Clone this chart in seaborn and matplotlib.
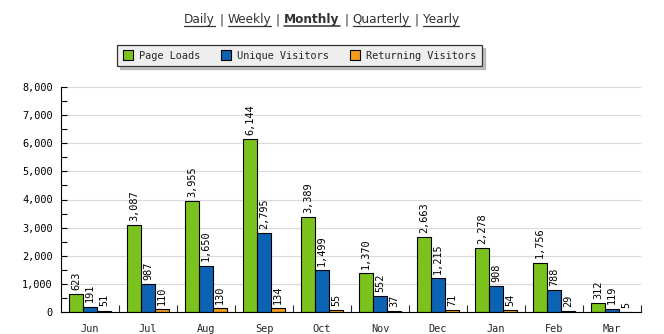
import matplotlib
matplotlib.use("Agg")
import matplotlib.pyplot as plt
import seaborn as sns
import pandas as pd
from matplotlib.patches import Patch
from matplotlib.lines import Line2D
from matplotlib.ticker import MultipleLocator, FixedLocator

# ---- data ----
months = ["Jun", "Jul", "Aug", "Sep", "Oct", "Nov", "Dec", "Jan", "Feb", "Mar"]
page_loads = [623, 3087, 3955, 6144, 3389, 1370, 2663, 2278, 1756, 312]
unique_visitors = [191, 987, 1650, 2795, 1499, 552, 1215, 908, 788, 119]
returning_visitors = [51, 110, 130, 134, 55, 37, 71, 54, 29, 5]
series_names = ["Page Loads", "Unique Visitors", "Returning Visitors"]
nav_items = ["Daily", "Weekly", "Monthly", "Quarterly", "Yearly"]
nav_active = "Monthly"
yticks = [0, 1000, 2000, 3000, 4000, 5000, 6000, 7000, 8000]

colors = ["#7cc21e", "#0d63b3", "#f29b1c"]

df = pd.DataFrame({
    "Month": months * 3,
    "Series": [series_names[0]] * len(months) + [series_names[1]] * len(months) + [series_names[2]] * len(months),
    "Value": page_loads + unique_visitors + returning_visitors,
})

sns.set_theme(style="white")
plt.rcParams["font.family"] = ["DejaVu Sans Mono"]

W, H = 664, 334
fig = plt.figure(figsize=(W / 100, H / 100), dpi=100)
fig.patch.set_facecolor("white")
ax = fig.add_axes([61 / W, 1 - 312 / H, (641 - 61) / W, (312 - 87) / H])

sns.barplot(data=df, x="Month", y="Value", hue="Series", order=months,
            hue_order=series_names, palette=colors, saturation=1, width=0.72,
            edgecolor="black", linewidth=0.8, ax=ax, legend=False)

fs = 7.4
for cont in ax.containers:
    ax.bar_label(cont, fmt="{:,.0f}", rotation=90, padding=3, fontsize=fs,
                 color="black", family="DejaVu Sans Mono")

ax.set_xlim(-0.5, len(months) - 0.5)
ax.set_ylim(0, 8000)
ax.set_yticks(yticks)
ax.set_yticklabels([f"{v:,}" for v in yticks])
ax.yaxis.set_minor_locator(MultipleLocator(500))
ax.xaxis.set_minor_locator(FixedLocator([i + 0.5 for i in range(len(months))]))
ax.tick_params(axis="y", which="both", direction="in", length=4, width=0.8,
               labelsize=fs, pad=6, left=True, colors="black")
ax.tick_params(axis="x", which="major", length=0, labelsize=fs, pad=8.5)
ax.tick_params(axis="x", which="minor", direction="in", length=5, width=0.8, bottom=True)
ax.set_xlabel("")
ax.set_ylabel("")
ax.yaxis.grid(True, which="major", color="#d9d9d9", linewidth=0.8)
ax.set_axisbelow(True)
for s in ["top", "right"]:
    ax.spines[s].set_visible(False)
for s in ["left", "bottom"]:
    ax.spines[s].set_color("black")
    ax.spines[s].set_linewidth(0.8)

# ---- legend ----
handles = [Patch(facecolor=c, edgecolor="black", linewidth=0.8, label=n)
           for c, n in zip(colors, series_names)]
leg = fig.legend(handles=handles, loc="center", bbox_to_anchor=(299.5 / W, 1 - 55.5 / H),
                 ncol=3, frameon=True, fancybox=False, shadow={"color": "#888888"},
                 facecolor="#eeeeee", edgecolor="#333333", fontsize=fs,
                 handlelength=1.0, handleheight=1.0, handletextpad=0.6,
                 columnspacing=2.0, borderpad=0.55, borderaxespad=0)
leg.get_frame().set_linewidth(0.9)

# ---- nav title ----
renderer = fig.canvas.get_renderer()
nav_color = "#333333"
pieces = []
for i, item in enumerate(nav_items):
    if i > 0:
        pieces.append(("|", False, False))
    pieces.append((item, True, item == nav_active))
texts = []
for txt, ul, bold in pieces:
    t = fig.text(0, 0, txt, fontsize=8.7, family="DejaVu Sans",
                 fontweight="bold" if bold else "normal", color=nav_color,
                 va="baseline", ha="left")
    texts.append(t)
gap = 4.5
widths = [t.get_window_extent(renderer).width for t in texts]
total = sum(widths) + gap * (len(texts) - 1)
x = 321.5 - total / 2
base_y = H - 23.5
for (txt, ul, bold), t, w in zip(pieces, texts, widths):
    t.set_position((x / W, base_y / H))
    if ul:
        fig.add_artist(Line2D([x / W, (x + w) / W], [(base_y - 2.5) / H] * 2,
                              transform=fig.transFigure, color=nav_color,
                              linewidth=0.9 if not bold else 1.1))
    x += w + gap

fig.savefig("out.png", dpi=100)
